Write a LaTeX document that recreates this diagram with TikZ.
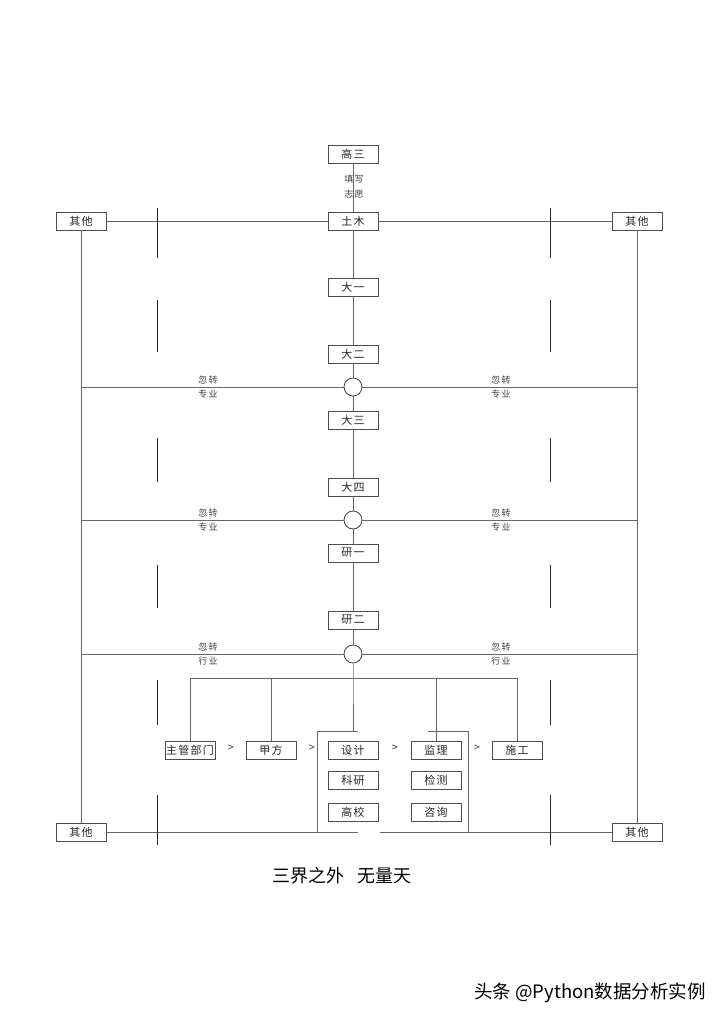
\documentclass[tikz,border=0pt]{standalone}
\usepackage{fontspec}
\setmainfont{Noto Sans CJK SC}
\newfontfamily\spcfont[LetterSpace=12]{Noto Sans CJK SC}
\begin{document}
\begin{tikzpicture}[x=1pt,y=-1pt,
  bx/.style={draw=black!70, line width=0.8pt, minimum width=50pt, minimum height=18pt, inner sep=0pt, fill=white, font=\spcfont\fontsize{11}{11}\selectfont, text=black!85},
  ln/.style={draw=black!60, line width=0.9pt},
  dsh/.style={draw=black!85, line width=0.9pt},
  circ/.style={circle, draw=black!75, line width=0.8pt, minimum size=18pt, inner sep=0pt, fill=white},
  lbl/.style={inner sep=0pt, text=black!75, font=\spcfont\fontsize{9}{9}\selectfont},
  gt/.style={inner sep=0pt, text=black!75, font=\fontsize{11}{11}\selectfont}]
\useasboundingbox (0,0) rectangle (720,1018);
\fill[white] (0,0) rectangle (720,1018);

% main column
\node[bx] (g3) at (353,154) {高三};
\node[bx] (tm) at (353,221) {土木};
\node[bx] (d1) at (353,287) {大一};
\node[bx] (d2) at (353,354) {大二};
\node[circ] (c1) at (353,387) {};
\node[bx] (d3) at (353,420) {大三};
\node[bx] (d4) at (353,487) {大四};
\node[circ] (c2) at (353,520) {};
\node[bx] (y1) at (353,553) {研一};
\node[bx] (y2) at (353,620) {研二};
\node[circ] (c3) at (353,654) {};

% others
\node[bx] (oL1) at (81,221) {其他};
\node[bx] (oR1) at (637,221) {其他};
\node[bx] (oL2) at (81,832) {其他};
\node[bx] (oR2) at (637,832) {其他};

% bottom row
\node[bx, font=\spcfont\fontsize{11}{11}\selectfont] (zg) at (190,750) {主管部门};
\node[bx] (jf) at (271,750) {甲方};
\node[bx] (sj) at (353,750) {设计};
\node[bx] (jl) at (436,750) {监理};
\node[bx] (sg) at (517,750) {施工};
\node[bx] (ky) at (353,780) {科研};
\node[bx] (gx) at (353,812) {高校};
\node[bx] (jc) at (436,780) {检测};
\node[bx] (zx) at (436,812) {咨询};

\node[gt] (a1) at (231,748) {>};
\node[gt] (a2) at (312,748) {>};
\node[gt] (a3) at (395,748) {>};
\node[gt] (a4) at (477,748) {>};

% coordinates
\coordinate (L1) at (81,387);  \coordinate (R1) at (637,387);
\coordinate (L2) at (81,520);  \coordinate (R2) at (637,520);
\coordinate (L3) at (81,654);  \coordinate (R3) at (637,654);
\coordinate (bzg) at (190,678); \coordinate (bjf) at (271,678);
\coordinate (bsj) at (353,678); \coordinate (bjl) at (436,678);
\coordinate (bsg) at (517,678);
\coordinate (bt) at (353,731);
\coordinate (k1) at (317,731); \coordinate (k2) at (358,731);
\coordinate (k3) at (317,832); \coordinate (k4) at (358,832);
\coordinate (m1) at (428,731); \coordinate (m2) at (468,731);
\coordinate (m3) at (468,832); \coordinate (m4) at (380,832);

% connectors
\draw[ln] (g3) -- (tm);
\draw[ln] (tm) -- (d1);
\draw[ln] (d1) -- (d2);
\draw[ln] (d2) -- (c1);
\draw[ln] (c1) -- (d3);
\draw[ln] (d3) -- (d4);
\draw[ln] (d4) -- (c2);
\draw[ln] (c2) -- (y1);
\draw[ln] (y1) -- (y2);
\draw[ln] (y2) -- (c3);
\draw[ln] (c3) -- (bsj) -- (bt);
\draw[ln] (oL1) -- (tm);
\draw[ln] (tm) -- (oR1);
\draw[ln] (oL1) -- (oL2);
\draw[ln] (oR1) -- (oR2);
\draw[ln] (L1) -- (c1); \draw[ln] (c1) -- (R1);
\draw[ln] (L2) -- (c2); \draw[ln] (c2) -- (R2);
\draw[ln] (L3) -- (c3); \draw[ln] (c3) -- (R3);
\draw[ln] (bzg) -- (bsg);
\draw[ln] (bzg) -- (zg);
\draw[ln] (bjf) -- (jf);
\draw[ln] (bjl) -- (jl);
\draw[ln] (bsg) -- (sg);
\draw[ln] (k2) -- (k1) -- (k3);
\draw[ln] (m1) -- (m2) -- (m3);
\draw[ln] (oL2) -- (k4);
\draw[ln] (m4) -- (oR2);

% long dashed verticals
\foreach \xx in {157,550}{
  \foreach \ya/\yb in {208/258,300/352,438/482,565/608,680/725,795/845}{
    \draw[dsh] (\xx,\ya) -- (\xx,\yb);
  }
}

% labels
\node[lbl] (t1) at (354,179) {填写};
\node[lbl] (t2) at (354,194) {志愿};
\node[lbl] at (208,380) {忽转};
\node[lbl] at (208,394) {专业};
\node[lbl] at (501,380) {忽转};
\node[lbl] at (501,394) {专业};
\node[lbl] at (208,513) {忽转};
\node[lbl] at (208,527) {专业};
\node[lbl] at (501,513) {忽转};
\node[lbl] at (501,527) {专业};
\node[lbl] at (208,647) {忽转};
\node[lbl] at (208,661) {行业};
\node[lbl] at (501,647) {忽转};
\node[lbl] at (501,661) {行业};

\node[inner sep=0pt, font=\fontsize{18}{20}\selectfont] (title) at (342,876) {三界之外\hspace{0.7em}无量天};
\node[inner sep=0pt, anchor=east, font=\fontsize{18.5}{20}\selectfont] (wm) at (706,993) {头条 @Python数据分析实例};
\end{tikzpicture}
\end{document}
